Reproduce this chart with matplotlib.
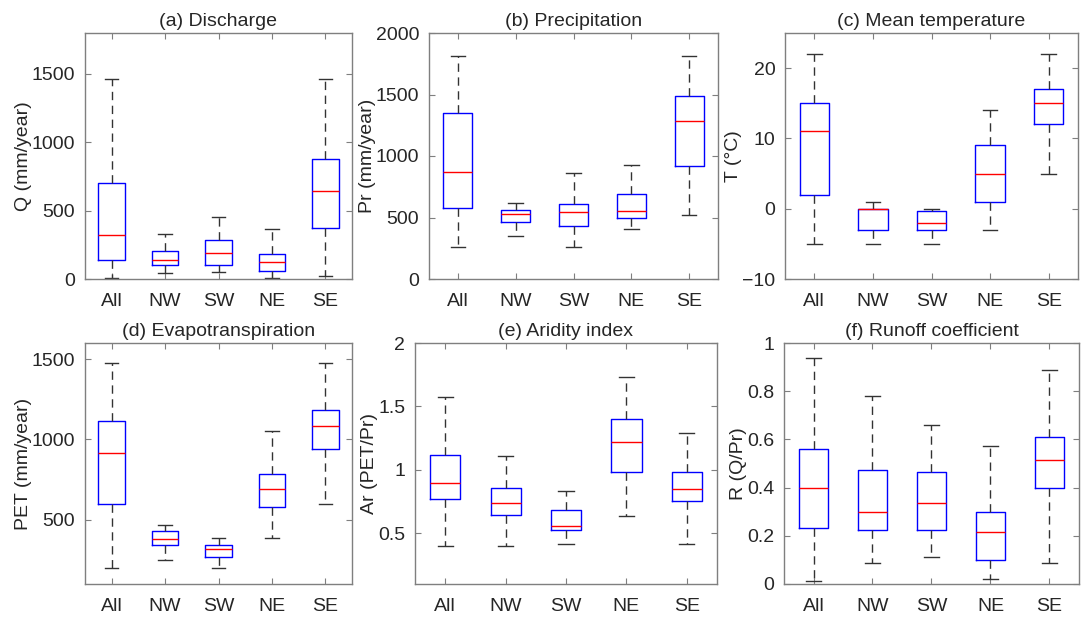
import matplotlib
matplotlib.use("Agg")
import matplotlib.pyplot as plt

plt.rcParams['font.family'] = ['Liberation Sans', 'DejaVu Sans']

regions = ['All', 'NW', 'SW', 'NE', 'SE']

# box stats per region: lower whisker, Q1, median, Q3, upper whisker
q_stats = [[10, 140, 322, 704, 1463],
           [44, 103, 141, 202, 332],
           [51, 100, 191, 286, 452],
           [7, 61, 125, 183, 369],
           [19, 370, 643, 877, 1463]]
pr_stats = [[260, 577, 867, 1350, 1816],
            [352, 466, 525, 561, 618],
            [260, 433, 547, 612, 862],
            [409, 496, 553, 688, 927],
            [523, 920, 1285, 1485, 1816]]
t_stats = [[-5, 2, 11, 15, 22],
           [-5, -3, 0, 0, 1],
           [-5, -3, -2, -0.3, 0],
           [-3, 1, 5, 9, 14],
           [5, 12, 15, 17, 22]]
pet_stats = [[202, 601, 916, 1115, 1477],
             [249, 344, 381, 428, 467],
             [202, 267, 319, 340, 385],
             [389, 580, 689, 786, 1051],
             [601, 940, 1082, 1185, 1477]]
ar_stats = [[0.398, 0.774, 0.897, 1.114, 1.577],
            [0.398, 0.644, 0.74, 0.853, 1.109],
            [0.415, 0.525, 0.555, 0.68, 0.83],
            [0.636, 0.98, 1.219, 1.40, 1.733],
            [0.416, 0.753, 0.848, 0.98, 1.289]]
r_stats = [[0.014, 0.234, 0.40, 0.559, 0.938],
           [0.088, 0.225, 0.30, 0.474, 0.782],
           [0.112, 0.222, 0.338, 0.463, 0.658],
           [0.019, 0.10, 0.217, 0.297, 0.572],
           [0.086, 0.397, 0.513, 0.611, 0.89]]

panels = [
    ('(a) Discharge', 'Q (mm/year)', q_stats, (0, 1800), [0, 500, 1000, 1500], None),
    ('(b) Precipitation', 'Pr (mm/year)', pr_stats, (0, 2000), [0, 500, 1000, 1500, 2000], None),
    ('(c) Mean temperature', 'T (°C)', t_stats, (-10, 25), [-10, 0, 10, 20], None),
    ('(d) Evapotranspiration', 'PET (mm/year)', pet_stats, (100, 1600), [500, 1000, 1500], None),
    ('(e) Aridity index', 'Ar (PET/Pr)', ar_stats, (0.1, 2), [0.5, 1, 1.5, 2], ['0.5', '1', '1.5', '2']),
    ('(f) Runoff coefficient', 'R (Q/Pr)', r_stats, (0, 1), [0, 0.2, 0.4, 0.6, 0.8, 1], ['0', '0.2', '0.4', '0.6', '0.8', '1']),
]

# axes boxes in pixels: left, top, right, bottom
W, H = 1085, 617
boxes = [(85, 33, 352, 279), (429, 33, 718, 279), (785, 33, 1078, 279),
         (85, 343, 352, 584), (415, 343, 717, 584), (784, 343, 1079, 584)]

fig = plt.figure(figsize=(W / 100, H / 100), dpi=100)
spine_col = '#7f7f7f'
txt_col = '#262626'

for (title, ylab, stats, ylim, yt, ytl), (l, t, r, b) in zip(panels, boxes):
    ax = fig.add_axes([l / W, 1 - b / H, (r - l) / W, (b - t) / H])
    bstats = []
    for name, s in zip(regions, stats):
        bstats.append(dict(label=name, whislo=s[0], q1=s[1], med=s[2], q3=s[3], whishi=s[4], fliers=[]))
    ax.bxp(bstats, positions=range(1, 6), widths=0.5, capwidths=0.25,
           showfliers=False,
           boxprops=dict(color='#0000ff', linewidth=1.0),
           medianprops=dict(color='#ff0000', linewidth=1.0),
           whiskerprops=dict(color='#333333', linewidth=1.0, linestyle=(0, (6, 4))),
           capprops=dict(color='#333333', linewidth=1.0))
    ax.set_xlim(0.5, 5.5)
    ax.set_ylim(*ylim)
    ax.set_yticks(yt)
    if ytl:
        ax.set_yticklabels(ytl)
    ax.set_title(title, fontsize=14, color=txt_col, pad=5)
    ax.set_ylabel(ylab, fontsize=14, color=txt_col, labelpad=0)
    ax.tick_params(axis='both', direction='in', labelsize=14, colors=txt_col,
                   length=4, top=True, right=True)
    ax.tick_params(axis='x', pad=10)
    ax.tick_params(axis='y', pad=7)
    ax.tick_params(axis='both', color=spine_col)
    for sp in ax.spines.values():
        sp.set_color(spine_col)
        sp.set_linewidth(1.0)

fig.savefig('out.png', dpi=100)
